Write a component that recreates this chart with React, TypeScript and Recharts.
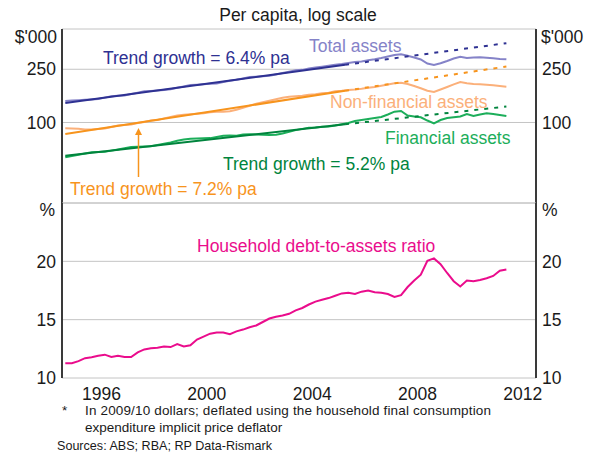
import React from 'react';
import { LineChart, Line, XAxis, YAxis, CartesianGrid } from 'recharts';

// Quarterly observations (mid-quarter, decimal years), 1995:Q1 – 2011:Q4
const QUARTERS: number[] = Array.from({ length: 68 }, (_, i) => 1995.125 + i * 0.25);

// Per capita assets, $'000 (log scale)
const totalAssets = [
  144.8, 145.8, 146.8, 147.7, 148.8, 149.8, 153.4, 157.1, 158.2, 159.2,
  163.1, 167.1, 171.1, 172.3, 173.4, 174.6, 177.3, 181.6, 186.0, 190.5,
  191.8, 193.1, 194.4, 195.8, 200.5, 205.3, 208.5, 213.6, 218.8, 220.2,
  221.7, 223.2, 228.6, 234.2, 239.9, 245.6, 247.4, 253.3, 257.2, 261.2,
  265.2, 269.9, 273.7, 278.4, 283.2, 285.7, 291.7, 296.7, 303.4, 311.4,
  319.5, 323.4, 315.2, 306.1, 295.7, 276.0, 269.0, 277.0, 288.2, 300.8,
  310.3, 303.4, 306.1, 307.1, 304.5, 301.8, 298.3, 296.7,
];
const nonFinancialAssets = [
  90.4, 90.0, 89.7, 88.5, 88.6, 89.4, 90.2, 92.6, 95.0, 95.9,
  96.7, 99.2, 101.0, 103.6, 104.5, 107.3, 110.1, 113.0, 114.0, 115.0,
  116.0, 117.0, 119.1, 120.1, 120.1, 121.2, 124.4, 128.7, 133.3, 138.0,
  141.6, 145.3, 149.1, 153.1, 155.7, 157.1, 158.5, 161.2, 162.7, 165.5,
  167.0, 171.0, 172.5, 174.9, 176.4, 178.5, 181.6, 184.2, 188.0, 192.3,
  196.6, 198.0, 193.9, 187.3, 180.1, 172.8, 169.0, 176.4, 184.2, 192.9,
  200.7, 196.3, 193.9, 192.9, 191.3, 189.6, 187.3, 185.1,
];
const financialAssets = [
  55.0, 56.1, 57.3, 58.6, 59.8, 60.1, 60.3, 61.6, 62.9, 64.3,
  65.7, 65.9, 66.2, 66.5, 67.9, 69.3, 70.8, 73.0, 74.5, 75.5,
  75.8, 76.1, 76.4, 78.0, 79.7, 80.0, 79.7, 81.4, 81.7, 81.3,
  81.0, 80.6, 80.9, 82.7, 85.1, 87.7, 89.6, 91.5, 91.9, 93.1,
  93.5, 94.9, 96.9, 99.1, 102.5, 104.3, 106.1, 108.0, 109.9, 114.7,
  120.4, 121.8, 112.7, 110.8, 109.3, 103.4, 98.6, 104.3, 108.0, 109.3,
  110.8, 115.7, 111.8, 114.7, 117.1, 115.7, 113.7, 111.8,
];

// Trend lines: start, end of estimation period, end of projection
const TREND_YEARS = [1995.125, 2005.75, 2011.875];
const trendTotal = [139.9, 270.0, 391.6];
const trendNonFin = [82.0, 172.5, 262.1];
const trendFin = [56.4, 96.9, 131.6];

// Household debt-to-assets ratio, %
const debtToAssets = [
  11.26, 11.26, 11.45, 11.7, 11.78, 11.9, 12.0, 11.8, 11.9, 11.8,
  11.8, 12.2, 12.45, 12.55, 12.6, 12.7, 12.65, 12.9, 12.7, 12.8,
  13.3, 13.55, 13.8, 13.9, 13.9, 13.75, 14.0, 14.15, 14.35, 14.5,
  14.8, 15.1, 15.25, 15.35, 15.5, 15.8, 16.0, 16.3, 16.55, 16.7,
  16.85, 17.05, 17.25, 17.3, 17.2, 17.4, 17.5, 17.35, 17.3, 17.2,
  16.95, 17.1, 17.8, 18.35, 18.85, 20.05, 20.25, 19.75, 19.0, 18.3,
  17.85, 18.35, 18.3, 18.4, 18.55, 18.75, 19.2, 19.3,
];

const TOP_TICKS = [100, 250];
const BOTTOM_TICKS = [10, 15, 20];
const YEAR_TICKS = [1996, 1997, 1998, 1999, 2000, 2001, 2002, 2003, 2004, 2005, 2006, 2007, 2008, 2009, 2010, 2011, 2012];
const YEAR_LABELS = [1996, 2000, 2004, 2008, 2012];
const X_DOMAIN = [1995, 2013];

const FONT = '"Liberation Sans", Arial, Helvetica, sans-serif';
const FRAME = '#3a3a3a';
const GRID = '#c4c4c4';
const NAVY = '#2e3192';
const LAVENDER = '#8583c8';
const ORANGE = '#f7941d';
const PEACH = '#fbb07a';
const DKGREEN = '#00843d';
const GREEN = '#1cae5a';
const MAGENTA = '#ea0c8c';
const FS = 17.5;

const series = (vals: number[]) => QUARTERS.map((t, i) => ({ t, v: vals[i] }));
const trendSolid = (vals: number[]) => [0, 1].map((i) => ({ t: TREND_YEARS[i], v: vals[i] }));
const trendDotted = (vals: number[]) => [1, 2].map((i) => ({ t: TREND_YEARS[i], v: vals[i] }));

const tickStyle = { fontSize: FS, fill: '#1a1a1a', fontFamily: FONT };

const YearTickMark = (props: any) => {
  const { x, y } = props;
  return <line x1={x} x2={x} y1={y} y2={y - 6} stroke="#555" strokeWidth={1.2} />;
};

export default function App() {
  const lineProps = { type: 'linear' as const, dot: false, isAnimationActive: false, xAxisId: 'x', yAxisId: 'l', dataKey: 'v' };
  return (
    <div style={{ position: 'absolute', left: 0, top: 0, width: 597, height: 454, background: '#fff', fontFamily: FONT }}>
      {/* Top panel: assets, log scale */}
      <div style={{ position: 'absolute', left: 0, top: 0 }}>
        <LineChart width={597} height={220} margin={{ top: 29, right: 0, bottom: 17, left: 0 }}>
          <CartesianGrid xAxisId="x" yAxisId="l" vertical={false} stroke={GRID} strokeWidth={1} />
          <XAxis xAxisId="x" dataKey="t" type="number" domain={X_DOMAIN} allowDataOverflow tick={false} tickLine={false} height={0} axisLine={{ stroke: FRAME, strokeWidth: 2 }} />
          <XAxis xAxisId="top" orientation="top" dataKey="t" type="number" domain={X_DOMAIN} allowDataOverflow tick={false} tickLine={false} height={0} axisLine={{ stroke: FRAME, strokeWidth: 2 }} />
          <YAxis yAxisId="l" type="number" scale="log" domain={[25, 500]} allowDataOverflow ticks={TOP_TICKS} interval={0} width={62} tickLine={false} tickSize={0} tickMargin={6} tick={tickStyle} axisLine={{ stroke: FRAME, strokeWidth: 2 }} />
          <YAxis yAxisId="r" orientation="right" type="number" scale="log" domain={[25, 500]} allowDataOverflow ticks={TOP_TICKS} interval={0} width={61} tickLine={false} tickSize={0} tickMargin={6} tick={tickStyle} axisLine={{ stroke: FRAME, strokeWidth: 2 }} />
          <Line {...lineProps} data={series(totalAssets)} stroke={LAVENDER} strokeWidth={2} />
          <Line {...lineProps} data={series(nonFinancialAssets)} stroke={PEACH} strokeWidth={2} />
          <Line {...lineProps} data={series(financialAssets)} stroke={GREEN} strokeWidth={2} />
          <Line {...lineProps} data={trendSolid(trendTotal)} stroke={NAVY} strokeWidth={2} />
          <Line {...lineProps} data={trendDotted(trendTotal)} stroke={NAVY} strokeWidth={2} strokeDasharray="4 6" />
          <Line {...lineProps} data={trendSolid(trendNonFin)} stroke={ORANGE} strokeWidth={2} />
          <Line {...lineProps} data={trendDotted(trendNonFin)} stroke={ORANGE} strokeWidth={2} strokeDasharray="4 6" />
          <Line {...lineProps} data={trendSolid(trendFin)} stroke={DKGREEN} strokeWidth={2} />
          <Line {...lineProps} data={trendDotted(trendFin)} stroke={DKGREEN} strokeWidth={2} strokeDasharray="4 6" />
        </LineChart>
      </div>

      {/* Bottom panel: debt-to-assets ratio */}
      <div style={{ position: 'absolute', left: 0, top: 0 }}>
        <LineChart width={597} height={454} margin={{ top: 203, right: 0, bottom: 46, left: 0 }}>
          <CartesianGrid xAxisId="x" yAxisId="l" vertical={false} stroke={GRID} strokeWidth={1} />
          <XAxis xAxisId="x" dataKey="t" type="number" domain={X_DOMAIN} allowDataOverflow ticks={YEAR_TICKS} interval={0} height={0} tickLine={false} tickSize={0} tickMargin={0} tick={<YearTickMark />} axisLine={{ stroke: FRAME, strokeWidth: 2 }} />
          <XAxis xAxisId="lbl" dataKey="t" type="number" domain={X_DOMAIN} allowDataOverflow ticks={YEAR_LABELS.map((y) => y + 0.5)} interval={0} height={30} tickLine={false} tickSize={0} tickMargin={10} axisLine={false} tick={tickStyle} tickFormatter={(v: number) => String(Math.floor(v))} />
          <YAxis yAxisId="l" type="number" domain={[10, 25]} allowDataOverflow ticks={BOTTOM_TICKS} interval={0} width={62} tickLine={false} tickSize={0} tickMargin={6} tick={tickStyle} axisLine={{ stroke: FRAME, strokeWidth: 2 }} />
          <YAxis yAxisId="r" orientation="right" type="number" domain={[10, 25]} allowDataOverflow ticks={BOTTOM_TICKS} interval={0} width={61} tickLine={false} tickSize={0} tickMargin={6} tick={tickStyle} axisLine={{ stroke: FRAME, strokeWidth: 2 }} />
          <Line {...lineProps} data={series(debtToAssets)} stroke={MAGENTA} strokeWidth={2} />
        </LineChart>
      </div>

      {/* Titles, units, annotations and notes */}
      <svg width={597} height={454} style={{ position: 'absolute', left: 0, top: 0, pointerEvents: 'none' }} fontFamily={FONT}>
        <text x={298} y={21} textAnchor="middle" fontSize={FS} fill="#1a1a1a">Per capita, log scale</text>
        <text x={57} y={43} textAnchor="end" fontSize={FS} fill="#1a1a1a">$'000</text>
        <text x={541} y={43} fontSize={FS} fill="#1a1a1a">$'000</text>
        <text x={55} y={216} textAnchor="end" fontSize={FS} fill="#1a1a1a">%</text>
        <text x={542} y={216} fontSize={FS} fill="#1a1a1a">%</text>

        <text x={103} y={63.5} fontSize={FS} fill={NAVY}>Trend growth = 6.4% pa</text>
        <text x={309} y={52} fontSize={FS} fill={LAVENDER}>Total assets</text>
        <text x={330} y={108} fontSize={FS} fill={PEACH}>Non-financial assets</text>
        <text x={385} y={143.5} fontSize={FS} fill={GREEN}>Financial assets</text>
        <text x={223} y={169.5} fontSize={FS} fill={DKGREEN}>Trend growth = 5.2% pa</text>
        <text x={70} y={194.5} fontSize={FS} fill={ORANGE}>Trend growth = 7.2% pa</text>
        <line x1={138.5} x2={138.5} y1={177} y2={134} stroke={ORANGE} strokeWidth={1.5} />
        <polygon points="138.5,128 135,135 142,135" fill={ORANGE} />
        <text x={197} y={252} fontSize={FS} fill={MAGENTA}>Household debt-to-assets ratio</text>

        <text x={62} y={415} fontSize={13.5} fill="#1a1a1a">*</text>
        <text x={85} y={415} fontSize={13.5} fill="#1a1a1a" textLength={406} lengthAdjust="spacing">In 2009/10 dollars; deflated using the household final consumption</text>
        <text x={85} y={432} fontSize={13.5} fill="#1a1a1a">expenditure implicit price deflator</text>
        <text x={57} y={450} fontSize={13} fill="#1a1a1a" textLength={215} lengthAdjust="spacingAndGlyphs">Sources: ABS; RBA; RP Data-Rismark</text>
      </svg>
    </div>
  );
}
